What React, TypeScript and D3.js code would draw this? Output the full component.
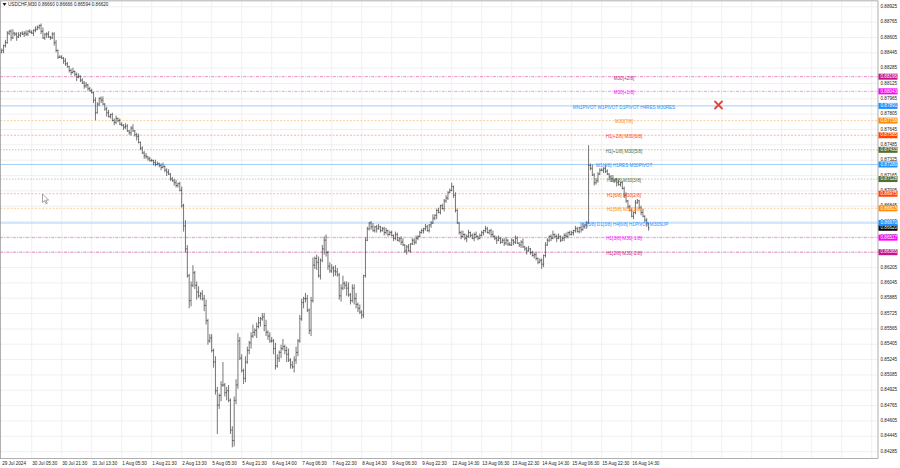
import React from 'react';
import * as d3 from 'd3';

const symbolTitle = 'USDCHF,M30';
const lastQuote = ['0.86660', '0.86666', '0.86594', '0.86620'];
const currentPrice = 0.8662;

const timeLabels = [
  '29 Jul 2024', '30 Jul 05:30', '30 Jul 21:30', '31 Jul 13:30', '1 Aug 05:30', '1 Aug 21:30',
  '2 Aug 13:30', '5 Aug 05:30', '5 Aug 21:30', '6 Aug 14:00', '7 Aug 06:30', '7 Aug 22:30',
  '8 Aug 14:30', '9 Aug 06:30', '9 Aug 22:30', '12 Aug 14:30', '13 Aug 06:30', '13 Aug 22:30',
  '14 Aug 14:30', '15 Aug 06:30', '15 Aug 22:30', '16 Aug 14:30',
];

const priceTicks = [
  0.88925, 0.88765, 0.88605, 0.88445, 0.88285, 0.88125, 0.87965, 0.87805, 0.87645, 0.87485,
  0.87325, 0.87165, 0.87005, 0.86845, 0.86685, 0.86525, 0.86365, 0.86205, 0.86045, 0.85885,
  0.85725, 0.85565, 0.85405, 0.85245, 0.85085, 0.84925, 0.84765, 0.84605, 0.84445, 0.84285,
];

// bar prices, in units of 0.0001
const firstOpen = 8845;
const closes = [
  8847,8852,8855,8865,8867,8860,8865,8864,8861,8863,8865,8864,8865,8864,8867,8866,
  8865,8868,8869,8871,8873,8867,8860,8864,8864,8861,8860,8864,8855,8847,8840,8840,
  8839,8836,8833,8830,8826,8824,8825,8822,8819,8820,8816,8813,8810,8811,8807,8805,
  8803,8795,8782,8791,8797,8795,8791,8786,8782,8778,8780,8774,8772,8776,8774,8770,
  8769,8767,8768,8763,8761,8766,8763,8759,8757,8751,8745,8740,8737,8736,8734,8732,
  8732,8730,8728,8729,8727,8725,8726,8722,8720,8718,8713,8711,8709,8706,8708,8701,
  8685,8664,8640,8612,8586,8602,8615,8602,8595,8591,8593,8588,8581,8565,8544,8547,
  8534,8522,8492,8477,8487,8498,8498,8490,8492,8482,8451,8440,8482,8498,8544,8526,
  8513,8505,8522,8534,8542,8549,8553,8555,8559,8563,8567,8569,8560,8553,8549,8544,
  8544,8536,8518,8526,8532,8536,8538,8534,8530,8524,8519,8517,8524,8532,8544,8567,
  8584,8588,8588,8576,8555,8586,8623,8630,8626,8612,8628,8640,8649,8636,8622,8617,
  8620,8617,8616,8613,8591,8599,8604,8602,8599,8592,8586,8599,8588,8582,8578,8574,
  8571,8612,8649,8661,8667,8663,8659,8663,8661,8663,8659,8661,8657,8659,8655,8657,
  8654,8651,8655,8649,8651,8647,8644,8638,8642,8638,8645,8649,8647,8651,8653,8657,
  8659,8661,8663,8659,8665,8667,8672,8675,8680,8678,8685,8682,8690,8693,8699,8701,
  8705,8696,8680,8667,8657,8653,8655,8651,8653,8657,8654,8651,8655,8653,8651,8654,
  8657,8659,8661,8657,8659,8655,8653,8651,8649,8651,8647,8649,8646,8649,8645,8644,
  8649,8647,8651,8646,8644,8647,8642,8640,8638,8640,8636,8633,8634,8630,8626,8628,
  8624,8633,8644,8649,8653,8651,8655,8653,8651,8653,8649,8651,8654,8653,8657,8655,
  8657,8659,8661,8658,8662,8660,8663,8665,8667,8727,8724,8717,8709,8711,8718,8722,
  8722,8724,8721,8718,8715,8713,8711,8712,8709,8707,8709,8703,8696,8690,8684,8680,
  8674,8678,8688,8690,8683,8678,8674,8670,8667,8662,
];
const highs = [
  8849,8853,8858,8867,8868,8869,8869,8866,8866,8866,8866,8867,8867,8868,8868,8869,
  8868,8869,8872,8873,8874,8875,8871,8865,8866,8867,8862,8866,8866,8858,8848,8842,
  8842,8840,8839,8835,8831,8828,8829,8826,8824,8823,8821,8818,8815,8814,8812,8809,
  8807,8804,8798,8793,8798,8799,8799,8792,8788,8785,8781,8782,8776,8779,8777,8776,
  8772,8770,8771,8770,8764,8768,8770,8764,8761,8760,8752,8747,8742,8740,8737,8736,
  8734,8733,8733,8731,8730,8729,8730,8727,8724,8723,8719,8715,8713,8712,8709,8710,
  8705,8687,8670,8644,8614,8606,8623,8617,8606,8601,8595,8597,8592,8587,8567,8551,
  8551,8536,8528,8496,8489,8502,8522,8500,8496,8498,8484,8455,8486,8504,8552,8548,
  8530,8515,8528,8538,8544,8553,8561,8557,8563,8569,8569,8573,8573,8566,8555,8553,
  8548,8546,8542,8530,8534,8540,8546,8540,8538,8536,8526,8523,8528,8538,8546,8571,
  8588,8590,8594,8592,8578,8590,8631,8632,8634,8632,8630,8644,8653,8655,8638,8626,
  8624,8622,8623,8620,8615,8603,8612,8606,8606,8605,8594,8603,8603,8594,8584,8582,
  8576,8613,8652,8663,8668,8669,8667,8664,8665,8666,8664,8663,8663,8662,8660,8659,
  8659,8655,8658,8657,8652,8653,8651,8645,8644,8645,8646,8651,8651,8654,8654,8659,
  8661,8662,8666,8665,8666,8669,8676,8676,8682,8683,8686,8687,8692,8696,8700,8703,
  8709,8706,8699,8682,8668,8659,8659,8656,8655,8660,8658,8656,8657,8658,8654,8656,
  8659,8660,8664,8663,8660,8661,8659,8654,8653,8654,8652,8651,8651,8652,8650,8647,
  8651,8650,8654,8653,8647,8649,8651,8643,8642,8643,8641,8638,8636,8637,8631,8630,
  8630,8634,8647,8651,8654,8655,8659,8656,8655,8656,8654,8653,8656,8657,8658,8659,
  8659,8660,8664,8663,8663,8664,8667,8666,8669,8748,8729,8728,8719,8714,8720,8724,
  8724,8725,8727,8723,8719,8717,8717,8713,8714,8712,8710,8711,8705,8699,8691,8686,
  8682,8679,8691,8692,8691,8685,8682,8675,8672,8667,
];
const lows = [
  8844,8844,8850,8854,8863,8857,8859,8862,8857,8860,8861,8863,8861,8862,8862,8865,
  8864,8862,8866,8868,8869,8864,8859,8858,8860,8860,8858,8859,8852,8845,8838,8839,
  8838,8833,8831,8829,8824,8821,8823,8820,8815,8818,8814,8812,8807,8808,8805,8804,
  8802,8792,8774,8781,8789,8792,8790,8784,8778,8777,8776,8773,8769,8770,8772,8769,
  8768,8764,8765,8762,8759,8758,8762,8757,8753,8750,8743,8739,8734,8734,8732,8731,
  8731,8727,8726,8727,8725,8722,8724,8720,8716,8717,8711,8710,8706,8704,8704,8700,
  8683,8658,8636,8610,8578,8580,8600,8598,8587,8589,8587,8586,8575,8561,8540,8542,
  8532,8516,8488,8447,8473,8481,8496,8486,8482,8480,8447,8433,8434,8478,8494,8524,
  8511,8499,8501,8520,8530,8536,8547,8549,8547,8557,8559,8565,8554,8549,8545,8542,
  8542,8530,8514,8516,8522,8526,8534,8530,8522,8522,8515,8515,8511,8520,8528,8542,
  8565,8578,8584,8574,8551,8549,8584,8619,8618,8610,8608,8626,8634,8632,8618,8615,
  8615,8611,8612,8611,8587,8585,8597,8598,8591,8590,8582,8584,8582,8578,8574,8572,
  8567,8568,8610,8648,8659,8660,8658,8657,8657,8660,8657,8658,8654,8655,8653,8654,
  8653,8648,8649,8648,8647,8644,8643,8636,8634,8637,8636,8644,8644,8645,8649,8652,
  8656,8656,8659,8658,8657,8662,8666,8670,8671,8677,8676,8681,8679,8688,8691,8698,
  8700,8693,8678,8666,8655,8650,8652,8649,8647,8652,8652,8650,8648,8651,8649,8650,
  8653,8654,8657,8656,8655,8652,8652,8649,8645,8648,8645,8646,8643,8644,8643,8643,
  8643,8644,8645,8645,8642,8641,8641,8638,8634,8637,8634,8632,8630,8628,8624,8625,
  8619,8621,8631,8643,8647,8648,8650,8651,8647,8650,8647,8648,8648,8651,8651,8654,
  8654,8654,8657,8657,8656,8657,8659,8661,8661,8666,8722,8716,8706,8707,8709,8717,
  8721,8719,8719,8717,8713,8710,8710,8709,8705,8706,8705,8702,8693,8688,8682,8679,
  8673,8671,8676,8687,8681,8675,8673,8668,8663,8659,
];

const levelPrices = [
  0.88196, 0.88043, 0.87891, 0.87738, 0.87585, 0.87433, 0.8728, 0.87128, 0.86975, 0.86823,
  0.8667, 0.86517, 0.86365,
];
const levelNames = [
  'M30[+2/8]', 'M30[+1/8]', 'MN1PIVOT W1PIVOT D1PIVOT H4RES M30RES', 'M30[7/8]',
  'H1[+2/8] M30[6/8]', 'H1[+1/8] M30[5/8]', 'W1[4/8] H1RES M30PIVOT', 'H1[7/8] M30[3/8]',
  'H1[6/8] M30[2/8]', 'H1[5/8] M30[1/8]', 'W1[3/8] D1[3/8] H4[6/8] H1PIVOT M30SUP',
  'H1[3/8] M30[-1/8]', 'H1[2/8] M30[-2/8]',
];
const levelKinds = ['x2', 'x1', 'pv', 'o1', 'o2', 'g', 'pv', 'g', 'o2', 'o1', 'pv', 'x1', 'x2'];

const KIND_STYLE: Record<string, { color: string; line: string; dash: string | undefined }> = {
  x2: { color: '#C71585', line: '#e070b5', dash: '3,1.2,1,1.2' },
  x1: { color: '#FF00FF', line: '#f07af0', dash: '3,1.2,1,1.2' },
  pv: { color: '#1E90FF', line: '#8cc2f5', dash: undefined },
  o1: { color: '#FF8C00', line: '#f7c48a', dash: '2,1.5' },
  o2: { color: '#FF4500', line: '#f5a888', dash: '2,1.5' },
  g: { color: '#556B2F', line: '#b0ba98', dash: '1.5,1.5' },
};

const FONT = '"Liberation Sans", Arial, sans-serif';
const W = 900;
const H = 468;
const PLOT_R = 878;
const PLOT_B = 458.5;

export default function App() {
  const y = d3.scaleLinear().domain([0.84285, 0.88925]).range([451.6, 6.8]);
  const x = d3.scaleLinear().domain([0, 16]).range([1.7, 31.7]);
  const p = (v: number) => y(v / 10000);

  let barPath = '';
  closes.forEach((c, i) => {
    const o = i === 0 ? firstOpen : closes[i - 1];
    const xi = x(i);
    barPath += `M${xi},${p(highs[i])}V${p(lows[i])}`;
    barPath += `M${xi - 0.9},${p(o)}H${xi}`;
    barPath += `M${xi},${p(c)}H${xi + 0.9}`;
  });

  const gridXs: number[] = [];
  for (let k = 1; x(k * 16) < PLOT_R; k++) gridXs.push(x(k * 16));

  const labelX = 624;

  return (
    <div style={{ position: 'absolute', left: 0, top: 0, width: W, height: H, background: '#fff' }}>
      <svg width={W} height={H} style={{ display: 'block' }} fontFamily={FONT}>
        <rect x={0} y={0} width={W} height={H} fill="#fff" />
        {/* grid */}
        <g stroke="#ececec" strokeWidth={0.8}>
          {gridXs.map((gx, i) => (
            <line key={'gx' + i} x1={gx} x2={gx} y1={1} y2={PLOT_B} />
          ))}
          {priceTicks.map((t, i) => (
            <line key={'gy' + i} x1={0} x2={PLOT_R} y1={y(t)} y2={y(t)} />
          ))}
        </g>
        {/* level lines */}
        {levelPrices.map((lv, i) => {
          const st = KIND_STYLE[levelKinds[i]];
          return (
            <line key={'lv' + i} x1={0} x2={PLOT_R} y1={y(lv)} y2={y(lv)} stroke={st.line}
              strokeWidth={0.8} strokeDasharray={st.dash} />
          );
        })}
        {/* bars */}
        <path d={barPath} stroke="#2b2b2b" strokeWidth={0.65} fill="none" />
        {/* level names */}
        {levelPrices.map((lv, i) => {
          const st = KIND_STYLE[levelKinds[i]];
          return (
            <text key={'ln' + i} x={labelX} y={y(lv) + 1.6} fontSize={4.6} fill={st.color}
              textAnchor="middle" dominantBaseline="middle">
              {levelNames[i]}
            </text>
          );
        })}
        {/* red cross */}
        <g stroke="#e2433f" strokeWidth={1.8} strokeLinecap="round">
          <line x1={715} y1={101.5} x2={722} y2={108.5} />
          <line x1={722} y1={101.5} x2={715} y2={108.5} />
        </g>
        {/* cursor */}
        <path d="M42.5,194 L42.5,202.5 L44.6,200.6 L46,203.8 L47.2,203.3 L45.8,200.1 L48.6,200.1 Z"
          fill="#fff" stroke="#666" strokeWidth={0.6} />
        {/* frame */}
        <g stroke="#9a9a9a" strokeWidth={0.8} fill="none">
          <line x1={0} x2={PLOT_R} y1={0.8} y2={0.8} />
          <line x1={PLOT_R} x2={PLOT_R} y1={0.8} y2={PLOT_B} />
          <line x1={0} x2={PLOT_R} y1={PLOT_B} y2={PLOT_B} />
          <line x1={0.5} x2={0.5} y1={0.8} y2={PLOT_B} />
        </g>
        {/* price axis */}
        {priceTicks.map((t, i) => (
          <text key={'pt' + i} x={880.5} y={y(t)} fontSize={4.6} fill="#222" dominantBaseline="middle">
            {d3.format('.5f')(t)}
          </text>
        ))}
        {/* current price tag */}
        <g>
          <rect x={878.5} y={y(currentPrice) - 3} width={19} height={6} fill="#000" />
          <text x={880.5} y={y(currentPrice)} fontSize={4.6} fill="#fff" dominantBaseline="middle">
            {d3.format('.5f')(currentPrice)}
          </text>
        </g>
        {levelPrices.map((lv, i) => {
          const st = KIND_STYLE[levelKinds[i]];
          return (
            <g key={'tag' + i}>
              <rect x={878.5} y={y(lv) - 3} width={19} height={6} fill={st.color} />
              <text x={880.5} y={y(lv)} fontSize={4.6} fill="#fff" dominantBaseline="middle">
                {d3.format('.5f')(lv)}
              </text>
            </g>
          );
        })}
        {/* time axis */}
        {timeLabels.map((t, i) => (
          <text key={'tl' + i} x={x(i * 16) + 0.5} y={463.5} fontSize={4.6} fill="#222"
            dominantBaseline="middle">
            {t}
          </text>
        ))}
        {/* title */}
        <path d="M2.5,3 L6.5,3 L4.5,6 Z" fill="#222" />
        <text x={8} y={5} fontSize={4.6} fill="#222" dominantBaseline="middle">
          {symbolTitle + '  ' + lastQuote.join(' ')}
        </text>
      </svg>
    </div>
  );
}
